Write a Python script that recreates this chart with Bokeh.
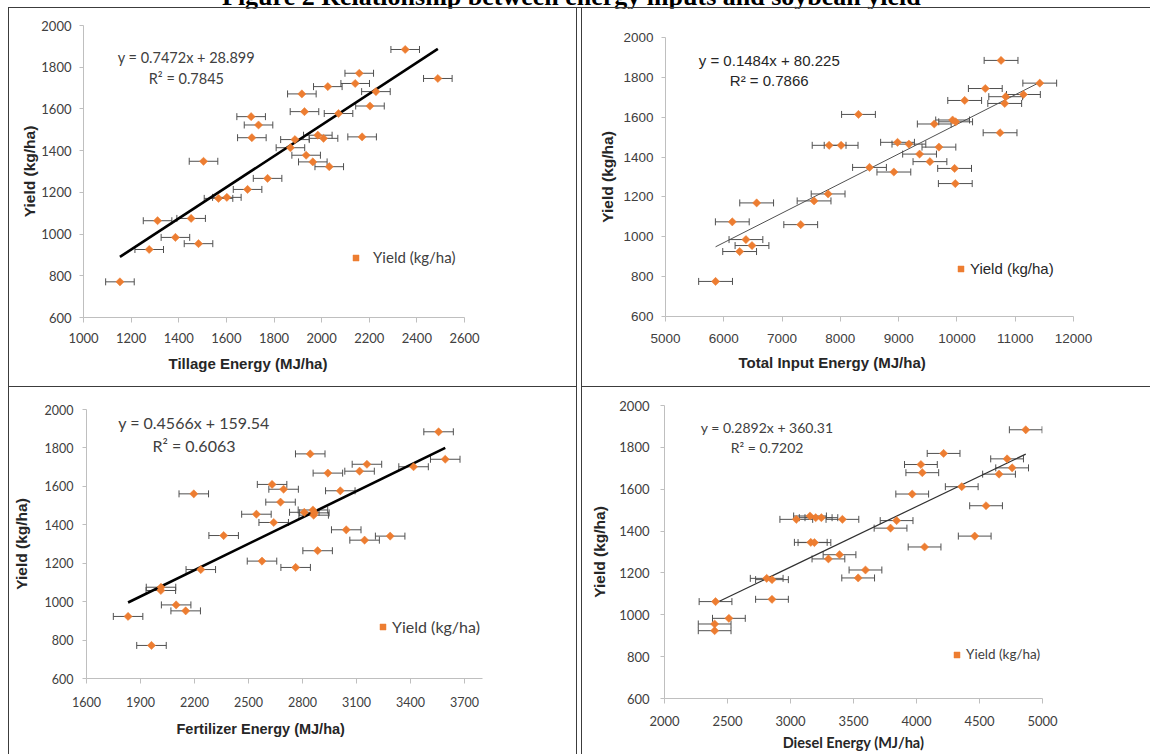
import numpy as np
from bokeh.plotting import figure
from bokeh.models import (ColumnDataSource, Range1d, FixedTicker, Whisker, TeeHead,
                          Label, Legend, LegendItem, Spacer, Div, Title)
from bokeh.layouts import row, column
from bokeh.embed import file_html
from bokeh.resources import INLINE

# ---------------- data ----------------
TITLE = "Figure 2 Relationship between energy inputs and soybean yield"
Y_TITLE = "Yield (kg/ha)"
SERIES_NAME = "Yield (kg/ha)"
yield_ticks = [600, 800, 1000, 1200, 1400, 1600, 1800, 2000]

tillage_energy = [2351, 2158, 2488, 2141, 2026, 2228, 1917, 2203, 1928, 2071, 1704, 1735,
                  1984, 2170, 1707, 2008, 1888, 1869, 1935, 1504, 1963, 2032, 1773, 1689,
                  1602, 1567, 1452, 1311, 1386, 1483, 1276, 1153]
tillage_yield = [1885, 1771, 1746, 1722, 1707, 1683, 1672, 1614, 1587, 1578, 1563, 1523,
                 1474, 1466, 1462, 1459, 1453, 1414, 1378, 1349, 1346, 1323, 1267, 1214,
                 1176, 1171, 1075, 1064, 984, 954, 926, 771]
tillage_err = 60
tillage_slope, tillage_intercept, tillage_r2 = 0.7472, 28.899, 0.7845
tillage_ticks = [1000, 1200, 1400, 1600, 1800, 2000, 2200, 2400, 2600]

total_energy = [10757, 11421, 10487, 11141, 10837, 10133, 10820, 8311, 9926, 9978, 9611, 10740,
                8981, 9176, 7807, 8013, 9691, 9359, 9537, 8500, 9960, 8918, 9972, 7790,
                7549, 6564, 6146, 7320, 6380, 6484, 6272, 5859]
total_yield = [1885, 1771, 1744, 1714, 1703, 1684, 1669, 1614, 1586, 1577, 1566, 1522,
               1474, 1465, 1459, 1459, 1450, 1415, 1377, 1348, 1343, 1325, 1267, 1215,
               1180, 1170, 1075, 1061, 986, 956, 926, 776]
total_err = 290
total_slope, total_intercept, total_r2 = 0.1484, 80.225, 0.7866
total_ticks = [5000, 6000, 7000, 8000, 9000, 10000, 11000, 12000]

fert_energy = [3556, 2843, 3593, 3158, 3417, 3117, 2941, 2631, 2695, 3010, 2196, 2678,
               2858, 2810, 2544, 2862, 2640, 3043, 2362, 3287, 3145, 2884, 2575, 2762,
               2235, 2014, 2013, 2098, 2151, 1831, 1961, 2866]
fert_yield = [1884, 1769, 1741, 1715, 1702, 1679, 1669, 1610, 1585, 1577, 1561, 1518,
              1477, 1465, 1455, 1450, 1412, 1374, 1344, 1341, 1320, 1265, 1211, 1178,
              1167, 1075, 1058, 983, 952, 923, 772, 1462]
fert_err = 82
fert_slope, fert_intercept, fert_r2 = 0.4566, 159.54, 0.6063
fert_ticks = [1600, 1900, 2200, 2500, 2800, 3100, 3400, 3700]

diesel_energy = [4867, 4215, 4719, 4035, 4759, 4046, 4655, 4359, 3966, 4552, 3155, 3200,
                 3245, 3046, 3412, 3842, 3794, 4462, 3161, 3190, 4064, 3389, 3301, 3595,
                 3537, 2811, 2853, 2853, 2405, 2511, 2398, 2398]
diesel_yield = [1884, 1771, 1745, 1718, 1702, 1679, 1672, 1612, 1577, 1521, 1472, 1464,
                1464, 1456, 1456, 1450, 1414, 1376, 1346, 1345, 1324, 1287, 1267, 1214,
                1176, 1174, 1168, 1074, 1063, 983, 956, 924]
diesel_err = 130
diesel_slope, diesel_intercept, diesel_r2 = 0.2892, 360.31, 0.7202
diesel_ticks = [2000, 2500, 3000, 3500, 4000, 4500, 5000]

# ---------------- styles ----------------
ORANGE = "#ED7D31"
RULE = "#3c3c3c"
AXIS_GRAY = "#BFBFBF"


def make_panel(xs, ys, err, slope, intercept, r2, xticks, x_end, x_title, cfg):
    p = figure(width=cfg["w"], height=cfg["h"], output_backend="svg", toolbar_location=None,
               x_range=Range1d(xticks[0], x_end), y_range=Range1d(yield_ticks[0], yield_ticks[-1]),
               min_border_left=cfg["mb"][0], min_border_right=cfg["mb"][1],
               min_border_top=cfg["mb"][2], min_border_bottom=cfg["mb"][3],
               outline_line_color=None, background_fill_color="white",
               border_fill_color="white")
    p.xgrid.visible = False
    p.ygrid.visible = False
    p.xaxis.ticker = FixedTicker(ticks=xticks)
    p.yaxis.ticker = FixedTicker(ticks=yield_ticks)
    for ax in (p.xaxis[0], p.yaxis[0]):
        ax.axis_line_color = AXIS_GRAY
        ax.major_tick_line_color = AXIS_GRAY
        ax.minor_tick_line_color = None
        ax.major_tick_in = 0
        ax.major_label_text_font = cfg["font"]
        ax.major_label_text_font_size = cfg["tick_size"]
        ax.major_label_text_color = "#404040"
    p.xaxis.major_tick_out = 5
    p.yaxis.major_tick_out = 4
    p.xaxis.major_label_standoff = cfg["xstandoff"]
    p.yaxis.major_label_standoff = cfg["ystandoff"]
    p.yaxis.axis_label = Y_TITLE
    p.yaxis.axis_label_text_font = "Liberation Sans"
    p.yaxis.axis_label_text_font_style = "bold"
    p.yaxis.axis_label_text_font_size = "15.5px"
    p.yaxis.axis_label_text_color = "#262626"
    p.yaxis.axis_label_standoff = cfg["ylab_standoff"]

    if cfg["xt_mode"] == "axis":
        p.xaxis.axis_label = x_title
        p.xaxis.axis_label_text_font = cfg["xt_font"]
        p.xaxis.axis_label_text_font_style = "bold"
        p.xaxis.axis_label_text_font_size = cfg["xt_size"]
        p.xaxis.axis_label_text_color = "#262626"
        p.xaxis.axis_label_standoff = cfg["xt_standoff"]
    else:
        p.add_layout(Title(text=x_title, align="left", offset=cfg["xt_offset"],
                           vertical_align="top", standoff=cfg["xt_standoff"],
                           text_font=cfg["xt_font"], text_font_style="bold",
                           text_font_size=cfg["xt_size"], text_color="#262626"), "below")

    xs = np.asarray(xs, dtype=float)
    src = ColumnDataSource(dict(x=xs, y=ys, lo=xs - err, hi=xs + err))
    ecol = "#505050"
    p.add_layout(Whisker(source=src, base="y", lower="lo", upper="hi", dimension="width",
                         line_color=ecol, line_width=1,
                         upper_head=TeeHead(size=7, line_color=ecol, line_width=1),
                         lower_head=TeeHead(size=7, line_color=ecol, line_width=1)))

    fx = np.array([xs.min(), xs.max()])
    p.line(fx, slope * fx + intercept, line_color=cfg["fit_color"], line_width=cfg["fit_width"])

    r = p.scatter(x="x", y="y", source=src, marker="square", size=5.8, angle=np.pi / 4,
                  fill_color=ORANGE, line_color=ORANGE, line_width=0.5)

    eq_font = cfg["eq_font"]
    p.add_layout(Label(x=cfg["eq"][0], y=cfg["eq"][1], text=f"y = {slope}x + {intercept}",
                       text_font=eq_font, text_font_size=cfg["eq_size"], text_color=cfg["eq_color"],
                       text_align="center", text_baseline="middle"))
    p.add_layout(Label(x=cfg["eq"][0], y=cfg["r2y"], text=f"R² = {r2}",
                       text_font=eq_font, text_font_size=cfg["eq_size"], text_color=cfg["eq_color"],
                       text_align="center", text_baseline="middle"))

    leg = Legend(items=[LegendItem(label=SERIES_NAME, renderers=[r])],
                 location=cfg["leg"], orientation="vertical",
                 border_line_color=None, background_fill_alpha=0, padding=0, margin=0,
                 spacing=0, glyph_width=15, glyph_height=15, label_height=15,
                 label_standoff=cfg["leg_standoff"], label_text_font=eq_font,
                 label_text_font_size=cfg["leg_size"], label_text_color=cfg["eq_color"])
    p.add_layout(leg)
    return p


p1 = make_panel(tillage_energy, tillage_yield, tillage_err, tillage_slope, tillage_intercept,
                tillage_r2, tillage_ticks, 2600, "Tillage Energy (MJ/ha)",
                dict(w=567, h=378, mb=(74, 112, 17, 69), font="Lato", tick_size="13px",
                     xstandoff=10, ystandoff=8, ylab_standoff=0, fit_color="#000000", fit_width=2.6,
                     eq_font="Lato", eq_size="14.5px", eq_color="#404040",
                     eq=(1432, 1847), r2y=1746, xt_mode="title", xt_offset=85, xt_standoff=18,
                     xt_font="Liberation Sans", xt_size="15px",
                     leg=(265, 51), leg_standoff=10, leg_size="15px"))

p2 = make_panel(total_energy, total_yield, total_err, total_slope, total_intercept,
                total_r2, total_ticks, 12000, "Total Input Energy (MJ/ha)",
                dict(w=568, h=378, mb=(83, 77, 29, 70), font="Liberation Sans", tick_size="13.5px",
                     xstandoff=12, ystandoff=8, ylab_standoff=4, fit_color="#505050", fit_width=1,
                     eq_font="Liberation Sans", eq_size="15px", eq_color="#262626",
                     eq=(6780, 1885), r2y=1784, xt_mode="title", xt_offset=73, xt_standoff=17,
                     xt_font="Liberation Sans", xt_size="15px",
                     leg=(288, 39), leg_standoff=2, leg_size="15px"))

p3 = make_panel(fert_energy, fert_yield, fert_err, fert_slope, fert_intercept,
                fert_r2, fert_ticks, 3800, "Fertilizer Energy (MJ/ha)",
                dict(w=567, h=367, mb=(77, 94, 22, 76), font="Lato", tick_size="12.5px",
                     xstandoff=13, ystandoff=9, ylab_standoff=12, fit_color="#000000", fit_width=2.6,
                     eq_font="Lato", eq_size="16px", eq_color="#404040",
                     eq=(2197, 1932), r2y=1813, xt_mode="title", xt_offset=90, xt_standoff=23,
                     xt_font="Liberation Sans", xt_size="14.5px",
                     leg=(289, 42), leg_standoff=2, leg_size="16px"))

p4 = make_panel(diesel_energy, diesel_yield, diesel_err, diesel_slope, diesel_intercept,
                diesel_r2, diesel_ticks, 5000, "Diesel Energy (MJ/ha)",
                dict(w=568, h=367, mb=(82, 108, 18, 56), font="Lato", tick_size="13px",
                     xstandoff=12, ystandoff=11, ylab_standoff=8, fit_color="#303030", fit_width=1.2,
                     eq_font="Lato", eq_size="14px", eq_color="#404040",
                     eq=(2814, 1895), r2y=1799, xt_mode="axis", xt_offset=0, xt_standoff=5,
                     xt_font="Lato", xt_size="14.5px",
                     leg=(285, 36), leg_standoff=2, leg_size="13.5px"))


def rule(w, h):
    return Spacer(width=w, height=h, margin=0, styles={"background-color": RULE})


def gap(w, h):
    return Spacer(width=w, height=h, margin=0)


title_html = ('<div style="position:absolute;left:222px;top:-16px;white-space:nowrap;'
              'font-family:\'Liberation Serif\',serif;font-weight:bold;font-size:26px;'
              'line-height:26px;color:#000;">' + TITLE + '</div>')
top = Div(text=title_html, width=1150, height=7, margin=0, styles={"overflow": "visible"})

top_rule = row(gap(8, 1), rule(1142, 1), spacing=0)
row1 = row(gap(8, 378), rule(1, 378), column(p1), rule(1, 378), gap(4, 378), rule(1, 378),
           column(p2), spacing=0)
mid_rule = row(gap(8, 1), rule(569, 1), gap(4, 1), rule(569, 1), spacing=0)
row2 = row(gap(8, 367), rule(1, 367), column(p3), rule(1, 367), gap(4, 367), rule(1, 367),
           column(p4), spacing=0)
layout = column(top, top_rule, row1, mid_rule, row2, spacing=0)

open("out.html", "w").write(file_html(layout, INLINE))
